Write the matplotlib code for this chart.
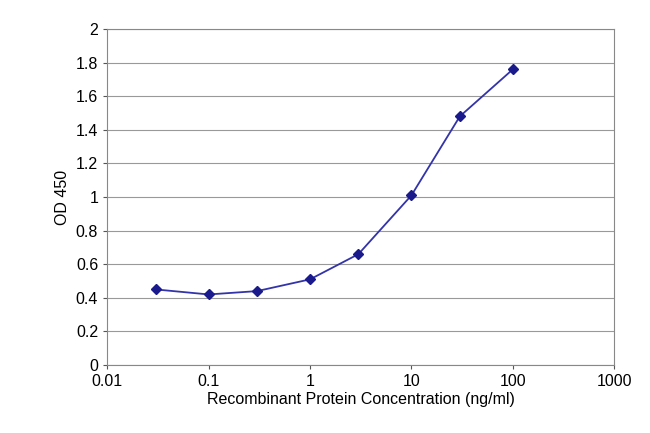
import matplotlib
matplotlib.use("Agg")
import matplotlib.pyplot as plt

conc = [0.03, 0.1, 0.3, 1, 3, 10, 30, 100]
od = [0.45, 0.42, 0.44, 0.51, 0.66, 1.01, 1.48, 1.76]
yticks = [0, 0.2, 0.4, 0.6, 0.8, 1, 1.2, 1.4, 1.6, 1.8, 2]
xticks = [0.01, 0.1, 1, 10, 100, 1000]
xlabels = ["0.01", "0.1", "1", "10", "100", "1000"]

plt.rcParams['font.family'] = ['Liberation Sans', 'DejaVu Sans']
fig = plt.figure(figsize=(6.5, 4.33), dpi=100)
ax = fig.add_axes([0.165, 0.157, 0.78, 0.776])
ax.plot(conc, od, color='#3333aa', lw=1.3, marker='D', ms=5,
        markerfacecolor='#1a1a8c', markeredgecolor='#1a1a8c')
ax.set_xscale('log')
ax.set_xlim(0.01, 1000)
ax.set_ylim(0, 2)
ax.set_yticks(yticks)
ax.set_yticklabels([f"{v:g}" for v in yticks])
ax.set_xticks(xticks)
ax.set_xticklabels(xlabels)
ax.minorticks_off()
ax.yaxis.grid(True, color='#999999', lw=0.8)
ax.set_axisbelow(True)
for s in ax.spines.values():
    s.set_color('#888888')
ax.tick_params(labelsize=11.5, length=3, color='#555555')
ax.set_xlabel('Recombinant Protein Concentration (ng/ml)', fontsize=11.5, labelpad=2)
ax.set_ylabel('OD 450', fontsize=11.5)
fig.savefig('out.png', dpi=100)
